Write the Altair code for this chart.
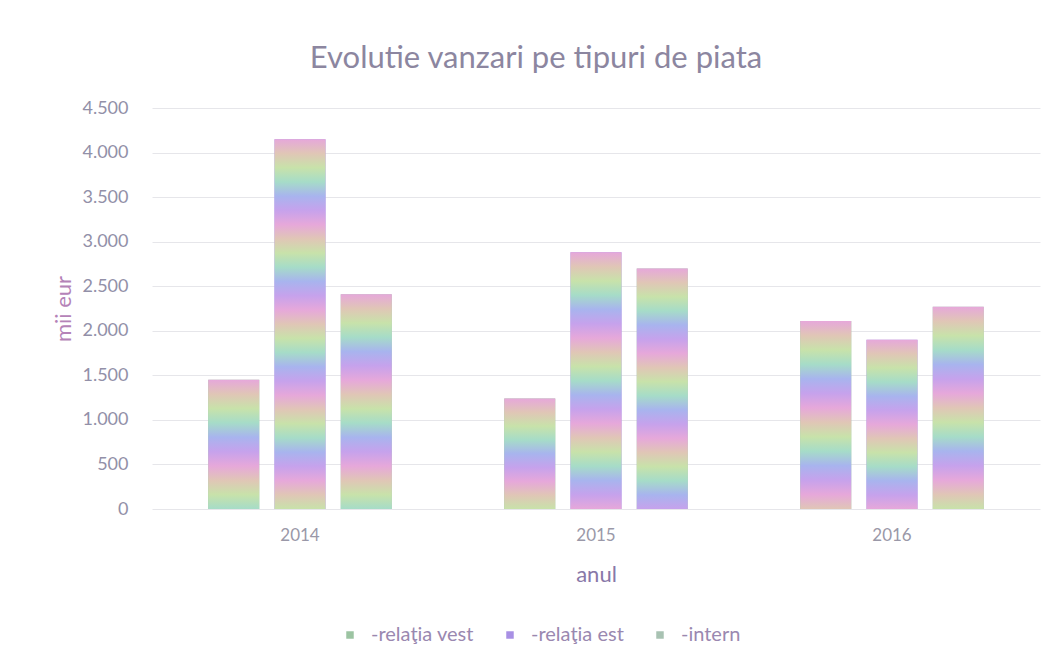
import altair as alt
import pandas as pd

years = ["2014", "2015", "2016"]
series = ["-relaţia vest", "-relaţia est", "-intern"]
vest = [1450, 1240, 2110]
est = [4150, 2880, 1900]
intern = [2410, 2700, 2270]

legend_colors = ["#9cc4a2", "#a890e4", "#a8c2b2"]
band_colors = ["#e6a8da", "#e0c6b6", "#c8e2aa", "#a6dcc8", "#a8b4ee", "#c6a2ec"]

rows = []
for s, vals in zip(series, [vest, est, intern]):
    for y, v in zip(years, vals):
        rows.append({"year": y, "series": s, "value": v})
df = pd.DataFrame(rows)

W, H = 888, 401
YMAX = 4500
PERIOD = 85.0
FONT = "Lato"
NB = "\u00a0"


def make_gradient(v):
    h = v * H / YMAX
    seg = PERIOD / len(band_colors)
    n = max(2, int(round(h / seg)))
    stops = []
    for i in range(n + 1):
        stops.append(alt.GradientStop(offset=min(1.0, i / n), color=band_colors[i % len(band_colors)]))
    return alt.Gradient(gradient="linear", stops=stops, x1=0, x2=0, y1=0, y2=1)


legend_label_expr = (
    f"datum.label == '{series[0]}' ? '{NB * 6}' + datum.label : "
    f"(datum.label == '{series[1]}' ? '{NB * 3}' + datum.label : datum.label)"
)

base = alt.Chart(df).encode(
    x=alt.X(
        "year:N",
        sort=years,
        scale=alt.Scale(paddingInner=0.38, paddingOuter=0.19),
        axis=alt.Axis(
            title="anul",
            labelAngle=0,
            labelPadding=18,
            titlePadding=21,
            labelColor="#9a98a8",
            titleColor="#8878a8",
            labelFontSize=17,
            titleFontSize=22,
            titleFontWeight="normal",
            grid=False,
        ),
    ),
    xOffset=alt.XOffset(
        "series:N",
        sort=series,
        scale=alt.Scale(domain=series, paddingInner=0.23, paddingOuter=0),
    ),
    y=alt.Y(
        "value:Q",
        scale=alt.Scale(domain=[0, YMAX]),
        axis=alt.Axis(
            title="mii eur",
            values=list(range(0, 4501, 500)),
            labelExpr="replace(format(datum.value, ','), ',', '.')",
            labelPadding=24,
            titlePadding=6,
            labelColor="#9290a8",
            titleColor="#b583b8",
            labelFontSize=18,
            titleFontSize=22,
            titleFontWeight="normal",
            gridColor="#e6e6ea",
        ),
    ),
)

legend_layer = base.mark_bar().encode(
    color=alt.Color(
        "series:N",
        sort=series,
        scale=alt.Scale(domain=series, range=legend_colors),
        legend=alt.Legend(
            title=None,
            orient="none",
            direction="horizontal",
            legendX=188,
            legendY=517,
            symbolType="square",
            symbolSize=56,
            symbolStrokeWidth=0,
            labelFontSize=20,
            labelColor="#9a88b0",
            labelOffset=11,
            labelExpr=legend_label_expr,
            columnPadding=26,
        ),
    )
)

layers = [legend_layer]
for s, vals in zip(series, [vest, est, intern]):
    for y, v in zip(years, vals):
        layers.append(
            base.transform_filter(f"datum.year == '{y}' && datum.series == '{s}'").mark_bar(
                color=make_gradient(v)
            )
        )

chart = (
    alt.layer(*layers)
    .properties(
        width=W,
        height=H,
        autosize=alt.AutoSizeParams(type="none"),
        padding={"left": 144, "top": 100, "right": 11, "bottom": 140},
        title=alt.TitleParams(
            "Evolutie vanzari pe tipuri de piata",
            fontSize=31,
            fontWeight="normal",
            color="#8c86a0",
            font=FONT,
            offset=24,
            dx=-60,
        ),
    )
    .configure(font=FONT)
    .configure_view(stroke=None)
    .configure_axis(domain=False, ticks=False, labelFont=FONT, titleFont=FONT)
    .configure_legend(labelFont=FONT)
)

chart.save("out.html", embed_options={"renderer": "svg", "actions": False})
